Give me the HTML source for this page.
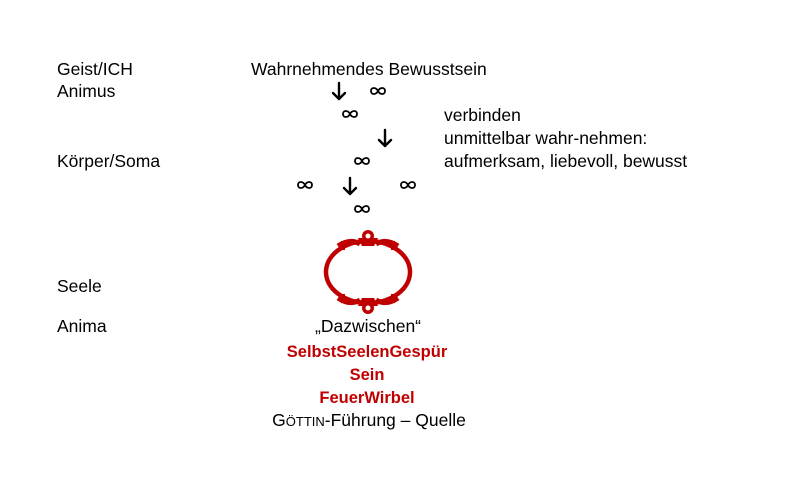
<!DOCTYPE html>
<html><head><meta charset="utf-8"><style>
body{margin:0;width:800px;height:492px;background:#fff;position:relative;overflow:hidden;font-family:"Liberation Sans",sans-serif;font-size:17.5px;color:#000}
.t{position:absolute;white-space:nowrap;line-height:20px}
.c{position:absolute;white-space:nowrap;line-height:20px;transform:translateX(-50%)}
.r{color:#c00000;font-weight:bold;font-size:16.5px}
</style></head><body>
<div class="t" style="left:57px;top:59px">Geist/ICH</div>
<div class="t" style="left:57px;top:81px">Animus</div>
<div class="t" style="left:57px;top:151px">Körper/Soma</div>
<div class="t" style="left:57px;top:276px">Seele</div>
<div class="t" style="left:57px;top:316px">Anima</div>
<div class="t" style="left:251px;top:59px">Wahrnehmendes Bewusstsein</div>
<div class="t" style="left:444px;top:105px">verbinden</div>
<div class="t" style="left:444px;top:128px">unmittelbar wahr-nehmen:</div>
<div class="t" style="left:444px;top:151px">aufmerksam, liebevoll, bewusst</div>
<svg style="position:absolute;left:0;top:0" width="800" height="492">
<defs><g id="a" fill="none" stroke="#000" stroke-width="2.4" stroke-linecap="round" stroke-linejoin="round"><path d="M0 -8 V8 M-6 2 L0 8 L6 2"/></g>
<g id="i" fill="none" stroke="#000" stroke-width="1.8"><path d="M0 0 C-2 -4 -7 -4 -7 0 C-7 4 -2 4 0 0 C2 -4 7 -4 7 0 C7 4 2 4 0 0Z"/></g></defs>
<use href="#a" x="339" y="91"/><use href="#a" x="385" y="138"/><use href="#a" x="350" y="186"/>
<use href="#i" x="378" y="91"/><use href="#i" x="350" y="114"/><use href="#i" x="362" y="161"/>
<use href="#i" x="305" y="185"/><use href="#i" x="408" y="185"/><use href="#i" x="362" y="209"/>
<g fill="none" stroke="#c00000" stroke-width="4.5">
<ellipse cx="368" cy="272" rx="42" ry="31"/>
<path d="M338 246 Q350 238 360 244 M376 244 Q386 238 398 246 M338 298 Q350 306 360 300 M376 300 Q386 306 398 298" stroke-width="5"/>
</g>
<g fill="#c00000">
<circle cx="368" cy="236" r="6"/><circle cx="368" cy="308" r="6"/>
<path d="M358 238 L378 238 L374 246 L362 246Z"/><path d="M358 306 L378 306 L374 298 L362 298Z"/>
<rect x="341" y="241" width="4" height="9"/><rect x="391" y="241" width="4" height="9"/>
<rect x="341" y="294" width="4" height="9"/><rect x="391" y="294" width="4" height="9"/>
</g>
<circle cx="368" cy="236" r="2.5" fill="#fff"/><circle cx="368" cy="308" r="2.5" fill="#fff"/>
</svg>
<div class="c" style="left:368px;top:316px">„Dazwischen“</div>
<div class="c r" style="left:367px;top:342px">SelbstSeelenGespür</div>
<div class="c r" style="left:367px;top:365px">Sein</div>
<div class="c r" style="left:367px;top:388px">FeuerWirbel</div>
<div class="c" style="left:369px;top:410px">G<span style="font-size:13px">ÖTTIN</span>-Führung – Quelle</div>
</body></html>
